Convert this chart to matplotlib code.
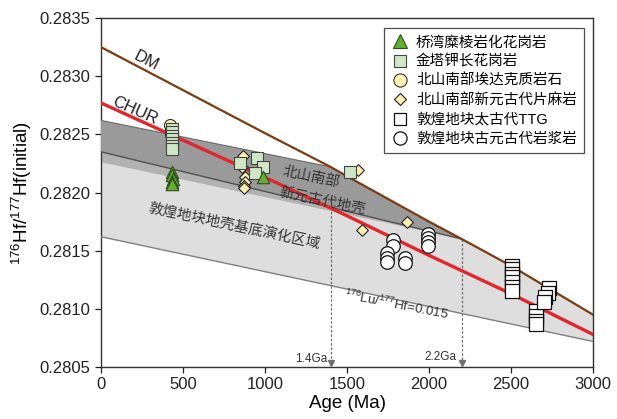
import matplotlib
matplotlib.use("Agg")
import matplotlib.pyplot as plt
from matplotlib.lines import Line2D

plt.rcParams['font.family'] = ['Liberation Sans', 'Noto Sans CJK SC']
plt.rcParams['mathtext.fontset'] = 'custom'
plt.rcParams['mathtext.rm'] = 'Liberation Sans'
plt.rcParams['axes.unicode_minus'] = False

# ---- reference evolution curves (age Ma, 176Hf/177Hf) ----
dm_age = [0, 500, 1000, 1400, 1500, 2000, 2200, 2500, 3000]
dm_hf = [0.28325, 0.28288, 0.28251, 0.28222, 0.28214, 0.28175, 0.28160, 0.28137, 0.28095]
chur_age = [0, 500, 1000, 1500, 2000, 2500, 3000]
chur_hf = [0.28277, 0.28245, 0.28213, 0.28180, 0.28146, 0.28113, 0.28078]

# Beishan Neoproterozoic crust field (upper edge, lower edges)
bs_top_age = [0, 1400]
bs_top_hf = [0.28262, 0.28222]
bs_low_age = [0, 2200]
bs_low_hf = [0.28235, 0.28160]
bs_base_age = [0, 2200]
bs_base_hf = [0.28226, 0.28160]
# Dunhuang basement field, lower edge (176Lu/177Hf = 0.015)
dh_low_age = [0, 3000]
dh_low_hf = [0.28162, 0.28072]

# ---- zircon data ----
qw_age = [430, 433, 436, 433, 430, 988]
qw_hf = [0.28218, 0.28215, 0.28212, 0.28209, 0.28207, 0.28213]

jt_age = [433, 433, 433, 433, 433, 433, 433, 848, 951, 988, 939, 1518]
jt_hf = [0.28255, 0.28252, 0.28249, 0.28246, 0.28243, 0.28240, 0.28237,
         0.28225, 0.28230, 0.28222, 0.28217, 0.28218]

ad_age = [420, 425, 428]
ad_hf = [0.28258, 0.28254, 0.28250]

gn_age = [866, 860, 878, 875, 872, 870, 1567, 1866, 1591]
gn_hf = [0.28231, 0.28222, 0.28213, 0.28209, 0.28206, 0.28204, 0.28219, 0.28175, 0.28168]

ttg_age = [2506, 2506, 2506, 2506, 2506, 2506, 2506,
           2652, 2652, 2652, 2652,
           2730, 2725, 2705, 2700]
ttg_hf = [0.28137, 0.28134, 0.28130, 0.28127, 0.28123, 0.28119, 0.28115,
          0.28098, 0.28094, 0.28090, 0.28087,
          0.28118, 0.28114, 0.28110, 0.28106]

pp_age = [1780, 1780, 1745, 1745, 1745, 1855, 1855, 1994, 1994, 1994, 1994]
pp_hf = [0.281592, 0.281540, 0.281480, 0.281437, 0.281403, 0.281437, 0.281394,
         0.281643, 0.281609, 0.281574, 0.281540]

legend_labels = ['桥湾糜棱岩化花岗岩', '金塔钾长花岗岩', '北山南部埃达克质岩石',
                 '北山南部新元古代片麻岩', '敦煌地块太古代TTG', '敦煌地块古元古代岩浆岩']

x_ticks = [0, 500, 1000, 1500, 2000, 2500, 3000]
y_ticks = [0.2805, 0.2810, 0.2815, 0.2820, 0.2825, 0.2830, 0.2835]

fig = plt.figure(figsize=(6.17, 4.19), dpi=100)
ax = fig.add_axes([0.1637, 0.124, 0.7974, 0.833])

# light field: Dunhuang basement evolution region
dm_tail = [(a, h) for a, h in zip(dm_age, dm_hf) if a >= 2200]
light_poly = (list(zip(dh_low_age, dh_low_hf))
              + dm_tail[::-1]
              + list(zip(bs_base_age, bs_base_hf))[::-1])
ax.fill([p[0] for p in light_poly], [p[1] for p in light_poly],
        color='#dedede', lw=0, zorder=1)

# medium strip below the Beishan field
mid_poly = list(zip(bs_low_age, bs_low_hf)) + list(zip(bs_base_age, bs_base_hf))[::-1]
ax.fill([p[0] for p in mid_poly], [p[1] for p in mid_poly],
        color='#b2b2b2', lw=0, zorder=2)

# dark field: Beishan Neoproterozoic crust
dm_mid = [(a, h) for a, h in zip(dm_age, dm_hf) if 1400 < a <= 2200]
dark_poly = (list(zip(bs_top_age, bs_top_hf)) + dm_mid
             + list(zip(bs_low_age, bs_low_hf))[::-1])
ax.fill([p[0] for p in dark_poly], [p[1] for p in dark_poly],
        color='#9a9a9a', lw=0, zorder=3)

ax.plot(bs_top_age, bs_top_hf, color='#6a6a6a', lw=0.8, zorder=4)
ax.plot(bs_low_age, bs_low_hf, color='#505050', lw=1.0, zorder=4)
ax.plot(dh_low_age, dh_low_hf, color='#808080', lw=1.0, zorder=4)

# model-age arrows
for age, start in [(1400, 0.281873), (2200, 0.28160)]:
    ax.plot([age, age], [start, 0.28052], color='#6e6e6e', lw=0.9,
            ls=(0, (2, 1.5)), zorder=2.5)
    ax.plot([age], [0.280535], marker='v', ms=5, color='#6e6e6e', zorder=5,
            clip_on=False)
ax.text(1380, 0.280568, '1.4Ga', ha='right', va='center', fontsize=8.5, color='#333333')
ax.text(2170, 0.280585, '2.2Ga', ha='right', va='center', fontsize=8.5, color='#333333')

# DM and CHUR curves
ax.plot(dm_age, dm_hf, color='#7b3c12', lw=1.6, zorder=6)
ax.plot(chur_age, chur_hf, color='#e3262b', lw=2.4, zorder=6)
ax.text(274, 0.28313, 'DM', rotation=-27, ha='center', va='center', fontsize=12, color='#222222')
ax.text(205, 0.28270, 'CHUR', rotation=-24, ha='center', va='center', fontsize=12, color='#222222')

ax.text(1280, 0.282133, '北山南部', rotation=-12, ha='center', va='center',
        fontsize=10.5, color='#333333', zorder=7)
ax.text(1348, 0.281927, '新元古代地壳', rotation=-12, ha='center', va='center',
        fontsize=10.5, color='#333333', zorder=7)
ax.text(811, 0.281712, '敦煌地块地壳基底演化区域', rotation=-12, ha='center', va='center',
        fontsize=10.5, color='#333333', zorder=7)
ax.text(1799, 0.281033, r'$^{176}$Lu/$^{177}$Hf=0.015', rotation=-11, ha='center',
        va='center', fontsize=9.5, color='#333333', zorder=7)

# data points
ax.scatter(ad_age, ad_hf, marker='o', s=75, facecolor='#fff1b2', edgecolor='#333333',
           lw=0.8, zorder=8)
ax.scatter(gn_age, gn_hf, marker='D', s=36, facecolor='#fff1b2', edgecolor='#222222',
           lw=0.8, zorder=9)
ax.scatter(jt_age, jt_hf, marker='s', s=80, facecolor='#cfe7c7', edgecolor='#444444',
           lw=0.8, zorder=10)
ax.scatter(qw_age, qw_hf, marker='^', s=80, facecolor='#63b031', edgecolor='#2d4d1a',
           lw=0.8, zorder=11)
ax.scatter(ttg_age, ttg_hf, marker='s', s=95, facecolor='white', edgecolor='#111111',
           lw=0.9, zorder=10)
ax.scatter(pp_age, pp_hf, marker='o', s=95, facecolor='white', edgecolor='#111111',
           lw=0.9, zorder=10)

handles = [
    Line2D([], [], ls='none', marker='^', ms=10, mfc='#63b031', mec='#2d4d1a', mew=0.8),
    Line2D([], [], ls='none', marker='s', ms=9, mfc='#cfe7c7', mec='#444444', mew=0.8),
    Line2D([], [], ls='none', marker='o', ms=9.5, mfc='#fff1b2', mec='#333333', mew=0.8),
    Line2D([], [], ls='none', marker='D', ms=6.5, mfc='#fff1b2', mec='#222222', mew=0.8),
    Line2D([], [], ls='none', marker='s', ms=9, mfc='white', mec='#111111', mew=0.9),
    Line2D([], [], ls='none', marker='o', ms=9.5, mfc='white', mec='#111111', mew=0.9),
]
leg = ax.legend(handles, legend_labels, loc='upper right', bbox_to_anchor=(0.982, 0.971),
                borderaxespad=0, fontsize=10.5, frameon=True, fancybox=False,
                edgecolor='#222222', labelspacing=0.36, handletextpad=0.5,
                handlelength=1.2, borderpad=0.5)
leg.get_frame().set_linewidth(0.9)
leg.set_zorder(20)

ax.set_xlim(0, 3000)
ax.set_ylim(0.2805, 0.2835)
ax.set_xticks(x_ticks)
ax.set_yticks(y_ticks)
ax.set_yticklabels([f'{v:.4f}' for v in y_ticks])
ax.tick_params(direction='out', length=4, width=0.9, labelsize=12, colors='#222222')
for s in ax.spines.values():
    s.set_color('#333333')
    s.set_linewidth(1.0)
ax.set_xlabel('Age (Ma)', fontsize=13.5, labelpad=2)
ax.set_ylabel(r'$^{176}$Hf/$^{177}$Hf(initial)', fontsize=13.5, labelpad=4)

fig.savefig('out.png', dpi=100, facecolor='white')
